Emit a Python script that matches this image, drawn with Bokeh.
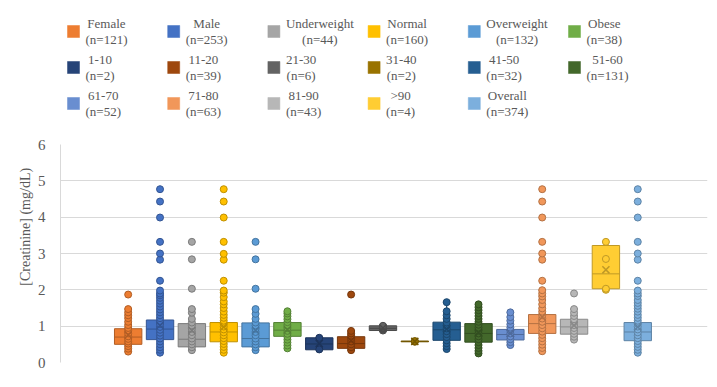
from bokeh.plotting import figure
from bokeh.layouts import column, row
from bokeh.models import Range1d, FixedTicker
from bokeh.core.properties import value
from bokeh.embed import file_html
from bokeh.resources import INLINE

# ---------------- data ----------------
labels = ["Female", "Male", "Underweight", "Normal", "Overweight", "Obese",
          "1-10", "11-20", "21-30", "31-40", "41-50", "51-60",
          "61-70", "71-80", "81-90", ">90", "Overall"]
counts = [121, 253, 44, 160, 132, 38, 2, 39, 6, 2, 32, 131, 52, 63, 43, 4, 374]
colors = ["#ED7D31", "#4472C4", "#A5A5A5", "#FFC000", "#5B9BD5", "#70AD47",
          "#264478", "#9E480E", "#636363", "#997300", "#255E91", "#43682B",
          "#698ED0", "#F1975A", "#B7B7B7", "#FFCD33", "#7CAFDD"]

q1 = [0.50, 0.63, 0.43, 0.57, 0.43, 0.72, 0.35, 0.39, 0.88, 0.57, 0.61, 0.56, 0.62, 0.80, 0.78, 2.03, 0.60]
median = [0.70, 0.92, 0.64, 0.84, 0.66, 0.89, 0.51, 0.52, 0.94, 0.58, 0.90, 0.80, 0.77, 1.07, 0.98, 2.44, 0.84]
q3 = [0.93, 1.17, 1.07, 1.10, 1.09, 1.10, 0.68, 0.71, 1.01, 0.59, 1.11, 1.07, 0.91, 1.32, 1.19, 3.22, 1.10]
whisker_lo = [0.30, 0.27, 0.34, 0.27, 0.34, 0.39, 0.35, 0.34, 0.88, 0.57, 0.37, 0.25, 0.48, 0.31, 0.63, 2.00, 0.27]
whisker_hi = [1.47, 1.90, 1.47, 1.92, 1.47, 1.41, 0.68, 0.87, 1.01, 0.59, 1.66, 1.60, 1.38, 1.99, 1.47, 3.32, 1.83]
means = [0.76, 1.02, 0.88, 0.98, 0.88, 0.90, 0.52, 0.60, 0.95, 0.58, 0.92, 0.82, 0.80, 1.25, 1.02, 2.55, 0.98]

pts_female = [0.30, 0.38, 0.45, 0.52, 0.58, 0.65, 0.72, 0.80, 0.88, 0.95, 1.03, 1.12, 1.22, 1.30, 1.38, 1.47, 1.87]
pts_male = [0.27, 0.35, 0.42, 0.50, 0.58, 0.66, 0.74, 0.82, 0.90, 0.98, 1.06, 1.14, 1.22, 1.30, 1.38,
            1.46, 1.54, 1.62, 1.70, 1.78, 1.85, 1.90, 1.98, 2.25, 2.83, 3.00, 3.32, 3.99, 4.43, 4.77]
pts_under = [0.34, 0.42, 0.50, 0.58, 0.66, 0.75, 0.84, 0.93, 1.02, 1.10, 1.20, 1.37, 1.47, 2.03, 2.84, 3.32]
pts_normal = [0.27, 0.35, 0.43, 0.51, 0.59, 0.67, 0.75, 0.83, 0.91, 0.99, 1.07, 1.15, 1.23, 1.31, 1.40,
              1.50, 1.60, 1.68, 1.80, 1.92, 1.98, 2.25, 2.83, 2.99, 3.32, 3.99, 4.43, 4.77]
pts_over = [0.34, 0.42, 0.50, 0.58, 0.66, 0.75, 0.84, 0.93, 1.02, 1.10, 1.20, 1.34, 1.47, 2.03, 2.84, 3.32]
pts_obese = [0.39, 0.47, 0.55, 0.63, 0.71, 0.79, 0.87, 0.95, 1.03, 1.11, 1.19, 1.27, 1.35, 1.41]
pts_a1 = [0.36, 0.68]
pts_a2 = [0.34, 0.42, 0.50, 0.58, 0.66, 0.74, 0.80, 0.87, 1.87]
pts_a3 = [0.88, 0.91, 0.94, 0.96, 0.99, 1.01]
pts_a4 = [0.57, 0.59]
pts_a5 = [0.37, 0.45, 0.53, 0.61, 0.70, 0.78, 0.86, 0.94, 1.02, 1.10, 1.20, 1.30, 1.41, 1.66]
pts_a6 = [0.25, 0.32, 0.40, 0.48, 0.56, 0.64, 0.72, 0.80, 0.88, 0.96, 1.04, 1.12, 1.20, 1.28, 1.36, 1.44, 1.52, 1.60]
pts_a7 = [0.48, 0.56, 0.64, 0.72, 0.80, 0.88, 0.96, 1.05, 1.15, 1.25, 1.38]
pts_a8 = [0.31, 0.40, 0.49, 0.58, 0.67, 0.76, 0.85, 0.94, 1.03, 1.12, 1.21, 1.30, 1.40, 1.49,
          1.60, 1.72, 1.82, 1.90, 1.99, 2.25, 2.83, 3.00, 3.32, 3.99, 4.43, 4.77]
pts_a9 = [0.63, 0.71, 0.79, 0.87, 0.95, 1.03, 1.11, 1.19, 1.28, 1.37, 1.47, 1.90]
pts_a10 = [2.00, 2.03, 2.85, 3.32]
pts_overall = [0.27, 0.35, 0.43, 0.51, 0.59, 0.67, 0.75, 0.83, 0.91, 0.99, 1.07, 1.15, 1.23, 1.31, 1.40,
               1.48, 1.56, 1.64, 1.72, 1.83, 1.90, 1.98, 2.25, 2.83, 3.00, 3.32, 3.99, 4.43, 4.77]
points = [pts_female, pts_male, pts_under, pts_normal, pts_over, pts_obese, pts_a1, pts_a2, pts_a3,
          pts_a4, pts_a5, pts_a6, pts_a7, pts_a8, pts_a9, pts_a10, pts_overall]

y_ticks = [0, 1, 2, 3, 4, 5, 6]
y_title = "[Creatinine] (mg/dL)"

# ---------------- helpers ----------------
def darker(hex_color, f=0.75):
    h = hex_color.lstrip("#")
    r, g, b = (int(h[i:i + 2], 16) for i in (0, 2, 4))
    return "#%02x%02x%02x" % (int(r * f), int(g * f), int(b * f))

TW = {'(': 333, ')': 333, 'n': 500, '=': 564, '-': 333, '>': 564, 'F': 556, 'e': 444, 'm': 778,
      'a': 444, 'l': 278, 'M': 889, 'U': 722, 'd': 500, 'r': 333, 'w': 722, 'i': 278, 'g': 500,
      'h': 500, 't': 278, 'N': 722, 'o': 500, 'O': 722, 'v': 500, 'b': 500, 's': 389}
def text_w(s, size):
    return sum(TW.get(c, 500) for c in s) / 1000.0 * size

FONT = "Liberation Serif"
TXT = "#595959"
LEG_FS = 13
W = 715
LH = 136
MH = 249

# ---------------- legend figure ----------------
leg = figure(width=W, height=LH, x_range=Range1d(0, W), y_range=Range1d(LH, 0),
             output_backend="svg", toolbar_location=None, min_border=0,
             x_axis_type=None, y_axis_type=None)
leg.outline_line_color = None
leg.xgrid.visible = False
leg.ygrid.visible = False

sw_x, sw_y, sw_c = [], [], []
t_x, t_y, t_s = [], [], []
for i, (lab, n, c) in enumerate(zip(labels, counts, colors)):
    col, rw = i % 6, i // 6
    cx = 73 + 100.2 * col
    cy = 31 + 36 * rw
    sw_x.append(cx); sw_y.append(cy); sw_c.append(c)
    l2 = "(n=%d)" % n
    w = max(text_w(lab, LEG_FS), text_w(l2, LEG_FS))
    center = cx + 12 + w / 2
    t_x += [center, center]; t_y += [cy - 8, cy + 7.5]; t_s += [lab, l2]

leg.rect(x=sw_x, y=sw_y, width=12, height=12, fill_color=sw_c,
         line_color=sw_c, line_alpha=0.5)
leg.text(x=t_x, y=t_y, text=t_s, text_font=value(FONT), text_font_size=f"{LEG_FS}px",
         text_color=TXT, text_align="center", text_baseline="middle")

# ---------------- y title figure ----------------
TWD = 34
tf = figure(width=TWD, height=MH, x_range=Range1d(0, TWD), y_range=Range1d(MH, 0),
            output_backend="svg", toolbar_location=None, min_border=0,
            x_axis_type=None, y_axis_type=None)
tf.outline_line_color = None
tf.xgrid.visible = False
tf.ygrid.visible = False
tf.text(x=[25], y=[94], text=[y_title], angle=1.5707963, text_font=value(FONT),
        text_font_size="14px", text_color=TXT, text_align="center", text_baseline="middle")

# ---------------- main figure ----------------
p = figure(width=W - TWD, height=MH, x_range=Range1d(-1.125, 19.19), y_range=Range1d(0, 6),
           output_backend="svg", toolbar_location=None,
           min_border_top=8, min_border_bottom=MH - 8 - 218, min_border_left=57 - TWD,
           min_border_right=W - 707)
p.outline_line_color = None
p.xaxis.visible = False
p.xgrid.visible = False
p.ygrid.grid_line_color = "#D9D9D9"
p.ygrid.grid_line_width = 1
p.yaxis.ticker = FixedTicker(ticks=y_ticks)
p.yaxis.major_tick_line_color = None
p.yaxis.minor_tick_line_color = None
p.yaxis.axis_line_color = "#D9D9D9"
p.yaxis.major_label_text_font = FONT
p.yaxis.major_label_text_font_size = "15px"
p.yaxis.major_label_text_color = TXT
p.yaxis.major_label_standoff = 9

xs = list(range(1, len(labels) + 1))
edges = [darker(c) for c in colors]
BW = 0.86

# whiskers
p.segment(x0=xs, y0=q3, x1=xs, y1=whisker_hi, line_color=edges, line_width=1.2)
p.segment(x0=xs, y0=q1, x1=xs, y1=whisker_lo, line_color=edges, line_width=1.2)
p.segment(x0=[x - 0.11 for x in xs], y0=whisker_hi, x1=[x + 0.11 for x in xs], y1=whisker_hi,
          line_color=edges, line_width=1.2)
p.segment(x0=[x - 0.11 for x in xs], y0=whisker_lo, x1=[x + 0.11 for x in xs], y1=whisker_lo,
          line_color=edges, line_width=1.2)
# boxes
p.vbar(x=xs, bottom=q1, top=q3, width=BW, fill_color=colors, line_color=edges, line_width=1)
p.segment(x0=[x - BW / 2 for x in xs], y0=median, x1=[x + BW / 2 for x in xs], y1=median,
          line_color=edges, line_width=1)
# points
px, py, pc, pe = [], [], [], []
for x, pts, c, e in zip(xs, points, colors, edges):
    for v in pts:
        px.append(x); py.append(v); pc.append(c); pe.append(e)
p.scatter(x=px, y=py, size=7, marker="circle", fill_color=pc, line_color=pe, line_width=1)
# means
p.scatter(x=xs, y=means, size=10, marker="x", line_color=edges, line_width=1.5)

layout = column(leg, row(tf, p, spacing=0), spacing=0)
open("out.html", "w").write(file_html(layout, INLINE))
